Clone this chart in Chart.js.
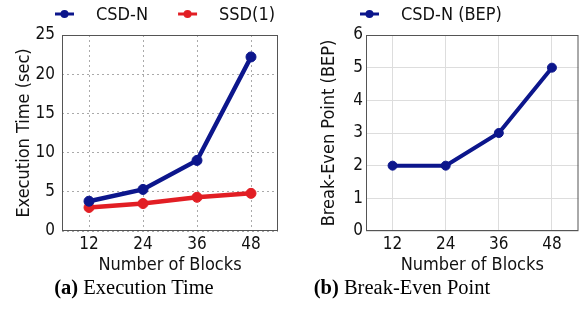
<!DOCTYPE html>
<html>
<head>
<meta charset="utf-8">
<script src="https://cdn.jsdelivr.net/npm/chart.js@4.4.0/dist/chart.umd.min.js"></script>
<style>
  body { margin: 0; background: #fff; width: 584px; height: 326px; position: relative; overflow: hidden; }
  .panel { position: absolute; top: 0; height: 280px; }
  .caption {
    position: absolute; top: 277px; transform: translateX(-50%);
    font-family: "Liberation Serif", "Times New Roman", serif;
    font-size: 20.5px; line-height: 20px; color: #000; white-space: nowrap;
  }
</style>
</head>
<body>
<div class="panel" style="left:0;width:300px"><canvas id="timeChart" width="300" height="280"></canvas></div>
<div class="panel" style="left:300px;width:284px"><canvas id="bepChart" width="284" height="280"></canvas></div>
<div class="caption" style="left:134px"><b>(a)</b> Execution Time</div>
<div class="caption" style="left:402px"><b>(b)</b> Break-Even Point</div>
<script>
/************************
 *      Data
 ************************/
const BLOCKS = ["12", "24", "36", "48"]
const CSD_N_TIME = [3.8, 5.3, 9.0, 22.2]
const SSD1_TIME = [3.0, 3.5, 4.3, 4.8]
const CSD_N_BEP = [2, 2, 3, 5]
const TIME_TICKS = [0, 5, 10, 15, 20, 25]
const BEP_TICKS = [0, 1, 2, 3, 4, 5, 6]

const BLUE = "rgb(12, 22, 140)"
const RED = "rgb(226, 30, 36)"
const TEXT = "#111"
const FONT = "'DejaVu Sans Condensed', 'DejaVu Sans', sans-serif"

Chart.defaults.font.family = FONT
Chart.defaults.color = TEXT
Chart.defaults.animation = false

/************************
 *      Helpers
 ************************/
// line + dot marker used in the legend
const legendMarker = (color) => {
    var c = document.createElement('canvas')
    c.width = 56
    c.height = 12
    var ctx = c.getContext('2d')
    ctx.strokeStyle = color
    ctx.fillStyle = color
    ctx.lineWidth = 3
    ctx.beginPath(); ctx.moveTo(24, 5); ctx.lineTo(43, 5); ctx.stroke()
    ctx.beginPath(); ctx.arc(33.5, 5, 4, 0, Math.PI * 2); ctx.fill()
    return c
}

const framePlugin = {
    id: 'frame',
    beforeDatasetsDraw(chart) {
        const { ctx, chartArea: a } = chart
        ctx.save()
        ctx.strokeStyle = '#555'
        ctx.lineWidth = 1
        ctx.strokeRect(a.left + 0.5, a.top + 0.5, a.width - 1, a.height - 1)
        ctx.restore()
    }
}

// keep the legend on one row and give it a fixed height
const legendHeightPlugin = {
    id: 'legendHeight',
    afterInit(chart) {
        const fit = chart.legend.fit
        chart.legend.fit = function () {
            this.maxWidth = 600
            fit.call(this)
            this.height = 35
        }
    },
    afterLayout(chart) {
        chart.legend.right = chart.width
        chart.legend.width = chart.width - chart.legend.left
    }
}

const lineSet = (label, data, color, width, radius) => ({
    label: label,
    data: data,
    borderColor: color,
    backgroundColor: color,
    borderWidth: width,
    pointRadius: radius,
    pointBorderWidth: 1,
    pointBackgroundColor: color,
    pointBorderColor: color,
    tension: 0
})

const createLineChart = ({ id, datasets, ticks, yTitle, padLeft, padRight, yWidth, yTickPad, yTitlePad, grid }) => {
    const markers = datasets.map(d => legendMarker(d.borderColor))
    return new Chart(id, {
        type: 'line',
        data: { labels: BLOCKS, datasets: datasets },
        options: {
            responsive: false,
            layout: { padding: { left: padLeft, right: padRight, top: 0, bottom: 0 } },
            plugins: {
                tooltip: { enabled: false },
                legend: {
                    position: 'top',
                    align: 'start',
                    labels: {
                        usePointStyle: true,
                        pointStyleWidth: 56,
                        padding: 6,
                        color: TEXT,
                        font: { size: 18 },
                        generateLabels: (chart) => Chart.defaults.plugins.legend.labels.generateLabels(chart)
                            .map((item, i) => ({ ...item, pointStyle: markers[i] }))
                    }
                }
            },
            scales: {
                x: {
                    offset: true,
                    grid: { offset: false, drawTicks: false, color: grid.color },
                    border: { display: false, dash: grid.dash },
                    ticks: { padding: 3, font: { size: 17 }, color: TEXT },
                    title: { display: true, text: 'Number of Blocks', font: { size: 18 }, color: TEXT, padding: { top: 0, bottom: 4 } },
                    afterFit: (scale) => { scale.height = 49 }
                },
                y: {
                    min: ticks[0],
                    max: ticks[ticks.length - 1],
                    grid: { drawTicks: false, color: grid.color },
                    border: { display: false, dash: grid.dash },
                    ticks: { stepSize: ticks[1] - ticks[0], padding: yTickPad, font: { size: 17 }, color: TEXT },
                    title: { display: true, text: yTitle, font: { size: 18 }, color: TEXT, padding: { top: yTitlePad, bottom: 0 } },
                    afterFit: (scale) => { scale.width = yWidth }
                }
            }
        },
        plugins: [framePlugin, legendHeightPlugin]
    })
}

/************************
 *      Charts
 ************************/
createLineChart({
    id: 'timeChart',
    datasets: [
        lineSet('CSD-N', CSD_N_TIME, BLUE, 4.5, 5),
        lineSet('SSD(1)', SSD1_TIME, RED, 4.5, 5)
    ],
    ticks: TIME_TICKS,
    yTitle: 'Execution Time (sec)',
    padLeft: 25, padRight: 22, yWidth: 37, yTickPad: 7, yTitlePad: -11,
    grid: { color: '#aaa', dash: [2, 3] }
})

createLineChart({
    id: 'bepChart',
    datasets: [lineSet('CSD-N (BEP)', CSD_N_BEP, BLUE, 4, 4.5)],
    ticks: BEP_TICKS,
    yTitle: 'Break-Even Point (BEP)',
    padLeft: 30, padRight: 1, yWidth: 36, yTickPad: 3, yTitlePad: -11.5,
    grid: { color: '#ddd', dash: [] }
})
</script>
</body>
</html>
